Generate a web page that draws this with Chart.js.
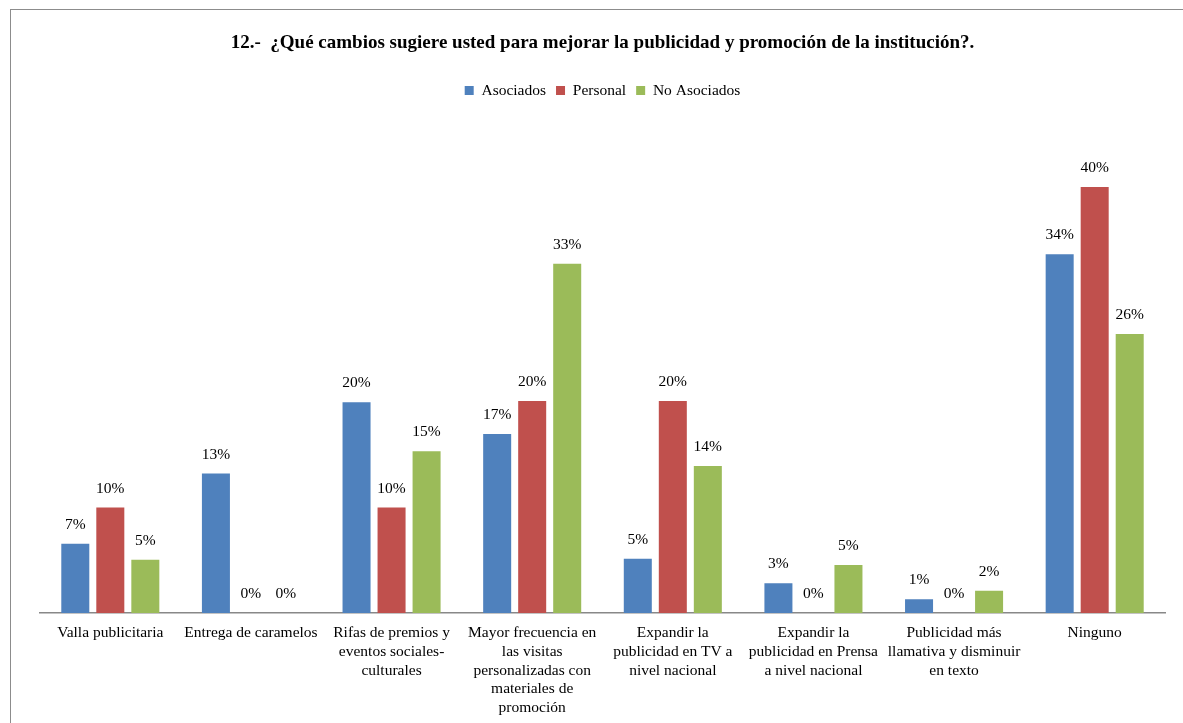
<!DOCTYPE html>
<html>
<head>
<meta charset="utf-8">
<script src="https://cdn.jsdelivr.net/npm/chart.js@4.4.0/dist/chart.umd.min.js"></script>
<style>
  body { margin: 0; background: #fff; width: 1183px; height: 723px; overflow: hidden; position: relative; }
  .frame { position: absolute; left: 10px; top: 9px; width: 1200px; height: 730px; border: 1px solid #8c8c8c; }
  .graph { position: absolute; left: 0; top: 0; width: 1172px; height: 713px; }
</style>
</head>
<body>
<div class="frame">
  <div class="graph"><canvas id="chart"></canvas></div>
</div>
<script>
const categories = [
  "Valla publicitaria",
  "Entrega de caramelos",
  ["Rifas de premios y", "eventos sociales-", "culturales"],
  ["Mayor frecuencia en", "las visitas", "personalizadas con", "materiales de", "promoción"],
  ["Expandir la", "publicidad en TV a", "nivel nacional"],
  ["Expandir la", "publicidad en Prensa", "a nivel nacional"],
  ["Publicidad más", "llamativa y disminuir", "en texto"],
  "Ninguno"
];
const asociados   = [6.5, 13.1, 19.8, 16.8, 5.1, 2.8, 1.3, 33.7];
const personal    = [9.9, 0, 9.9, 19.9, 19.9, 0, 0, 40.0];
const noAsociados = [5.0, 0, 15.2, 32.8, 13.8, 4.5, 2.1, 26.2];

const serif = "'Liberation Serif', 'Times New Roman', serif";

// labels on top of each bar
const barLabels = {
  id: 'barLabels',
  afterDatasetsDraw(chart) {
    const ctx = chart.ctx;
    ctx.save();
    ctx.font = "15.5px " + serif;
    ctx.fillStyle = "#000";
    ctx.textAlign = "center";
    ctx.textBaseline = "middle";
    chart.data.datasets.forEach((ds, i) => {
      chart.getDatasetMeta(i).data.forEach((bar, j) => {
        ctx.fillText(Math.round(ds.data[j]) + "%", bar.x, bar.y - 19);
      });
    });
    ctx.restore();
  }
};

const ctx = document.getElementById('chart').getContext('2d');
new Chart(ctx, {
  type: 'bar',
  data: {
    labels: categories,
    datasets: [
      { label: 'Asociados', data: asociados, backgroundColor: '#4F81BD' },
      { label: 'Personal', data: personal, backgroundColor: '#C0504D' },
      { label: 'No Asociados', data: noAsociados, backgroundColor: '#9BBB59' }
    ]
  },
  plugins: [barLabels],
  options: {
    responsive: true,
    maintainAspectRatio: false,
    animation: false,
    datasets: { bar: { categoryPercentage: 0.747, barPercentage: 0.8 } },
    layout: { padding: { left: 29, right: 18, top: 0, bottom: 0 } },
    plugins: {
      tooltip: { enabled: false },
      title: {
        display: true,
        text: '12.-  ¿Qué cambios sugiere usted para mejorar la publicidad y promoción de la institución?.',
        color: '#000',
        font: { family: serif, size: 19, weight: 'bold' },
        padding: { top: 22, bottom: 18 }
      },
      legend: {
        position: 'top',
        labels: {
          color: '#000',
          font: { family: serif, size: 15.5 },
          boxWidth: 9,
          boxHeight: 9,
          padding: 10
        }
      }
    },
    scales: {
      x: {
        grid: { display: false },
        border: { display: true, color: '#888888', width: 1.5 },
        ticks: {
          color: '#000',
          font: { family: serif, size: 15.5, lineHeight: 1.2 },
          autoSkip: false,
          maxRotation: 0,
          padding: 3
        },
        afterFit(scale) { scale.height = 110; }
      },
      y: {
        display: false,
        min: 0,
        max: 47.4
      }
    }
  }
});
</script>
</body>
</html>
